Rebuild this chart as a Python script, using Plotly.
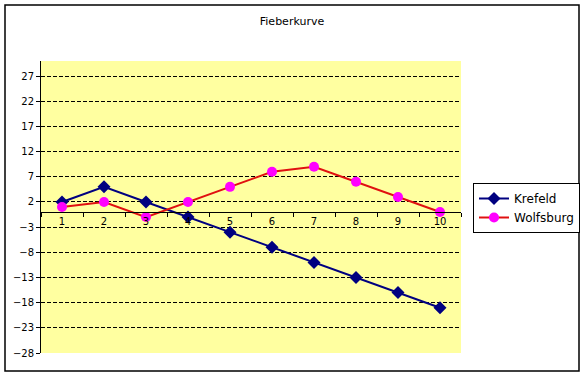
import plotly.graph_objects as go

categories = [1, 2, 3, 4, 5, 6, 7, 8, 9, 10]
krefeld = [2, 5, 2, -1, -4, -7, -10, -13, -16, -19]
wolfsburg = [1, 2, -1, 2, 5, 8, 9, 6, 3, 0]
y_min, y_max = -28, 30

fig = go.Figure()
fig.add_trace(go.Scatter(
    x=categories, y=krefeld, name="Krefeld", mode="lines+markers",
    line=dict(color="#000080", width=2),
    marker=dict(symbol="diamond", size=10, color="#000080"),
))
fig.add_trace(go.Scatter(
    x=categories, y=wolfsburg, name="Wolfsburg", mode="lines+markers",
    line=dict(color="#E01010", width=2),
    marker=dict(symbol="circle", size=10, color="#FF00FF"),
))

zero_pos = (0 - y_min) / (y_max - y_min)

fig.update_layout(
    width=584, height=377, autosize=False,
    margin=dict(l=41, r=123, t=61, b=24),
    paper_bgcolor="white",
    plot_bgcolor="#FFFFA0",
    font=dict(family="DejaVu Sans", size=10, color="black"),
    title=dict(text="Fieberkurve", x=0.5, xref="container", xanchor="center",
               y=1 - 21 / 377, yref="container", yanchor="middle",
               font=dict(family="DejaVu Sans", size=11, color="black")),
    showlegend=True,
    legend=dict(xref="container", yref="container",
                x=473 / 584, y=1 - 183 / 377, xanchor="left", yanchor="top",
                bordercolor="black", borderwidth=1, bgcolor="white",
                font=dict(family="DejaVu Sans", size=12, color="black"),
                tracegroupgap=0),
    xaxis=dict(range=[0.5, 10.5], tickmode="array", tickvals=categories,
               ticktext=[str(c) for c in categories],
               anchor="free", position=zero_pos,
               showline=True, linecolor="black", linewidth=1,
               showgrid=False, zeroline=False, ticks="",
               minor=dict(tick0=0.5, dtick=1, ticks="outside", ticklen=4,
                          tickcolor="black", showgrid=False),
               tickfont=dict(size=10), automargin=False),
    yaxis=dict(range=[y_min, y_max], tick0=y_min, dtick=5,
               showline=True, linecolor="black", linewidth=1,
               ticks="outside", ticklen=4, tickcolor="black",
               showgrid=True, gridcolor="black", griddash="4px,2px", gridwidth=1,
               zeroline=False, tickfont=dict(size=10), automargin=False),
    shapes=[dict(type="rect", xref="paper", yref="paper",
                 x0=(5 - 41) / 420, x1=(579 - 41) / 420,
                 y0=(353 - 371) / 292, y1=(353 - 5) / 292,
                 line=dict(color="black", width=1.5), fillcolor="rgba(0,0,0,0)",
                 layer="below")],
)

fig.write_html(
    "out.html",
    config={"displayModeBar": False, "responsive": False},
    post_script="document.body.style.margin='0';document.body.style.overflow='hidden';",
)
